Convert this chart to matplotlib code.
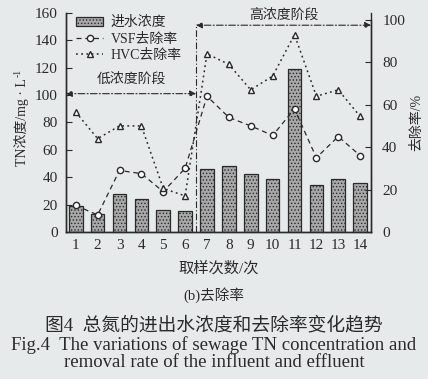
import matplotlib
matplotlib.use("Agg")
import matplotlib.pyplot as plt
import numpy as np

plt.rcParams['font.family'] = ['Liberation Serif', 'Noto Sans CJK SC']

samples = list(range(1, 15))
influent_tn = [19, 13, 28, 24, 16, 15.5, 46, 48, 42, 39, 119, 34.5, 39, 36]
vsf_removal = [12.5, 8, 29, 27.5, 19, 30, 64, 54, 50, 45.5, 58, 35, 45, 36]
hvc_removal = [56.5, 44, 50, 50, 20.5, 17, 84, 79, 67, 73.5, 93, 64, 67, 54.5]
left_ticks = [0, 20, 40, 60, 80, 100, 120, 140, 160]
right_ticks = [0, 20, 40, 60, 80, 100]

ink = '#2a2a2a'
bg = '#e7eaeb'
fig = plt.figure(figsize=(4.28, 3.79), dpi=100, facecolor=bg)
ax = fig.add_axes([0.154, 0.388, 0.713, 0.578])
ax.set_facecolor(bg)
ax2 = ax.twinx()

plt.rcParams['hatch.color'] = '#6e6e6e'
plt.rcParams['hatch.linewidth'] = 0.6
bars = ax.bar(samples, influent_tn, width=0.62, color='#a8a8a8', edgecolor=ink,
              linewidth=0.9, hatch='.....', label='进水浓度', zorder=2)

l1, = ax2.plot(samples, vsf_removal, linestyle=(0, (4, 3)), color=ink, lw=0.9,
               marker='o', markersize=4.5, markerfacecolor='white', markeredgecolor=ink,
               label='VSF去除率', zorder=4)
l2, = ax2.plot(samples, hvc_removal, linestyle=(0, (1.2, 2.2)), color=ink, lw=1.1,
               marker='^', markersize=4.5, markerfacecolor='white', markeredgecolor=ink,
               label='HVC去除率', zorder=4)

ax.set_xlim(0.55, 14.5)
ax.set_ylim(0, 160)
ax2.set_ylim(0, 103.3)
ax.set_yticks(left_ticks)
ax2.set_yticks(right_ticks)
ax.set_xticks(samples)
ax.set_xticklabels([str(s) for s in samples])

for a in (ax, ax2):
    a.spines['top'].set_visible(False)
    for s in a.spines.values():
        s.set_linewidth(1.0)
        s.set_color(ink)
ax.spines['left'].set_bounds(0, 160)
ax2.spines['right'].set_bounds(0, 100)
ax.tick_params(axis='y', direction='in', length=4, labelsize=11, colors=ink, pad=6)
ax.tick_params(axis='x', direction='in', length=3, labelsize=11, colors=ink, pad=5)
ax2.tick_params(axis='y', direction='in', length=4, labelsize=11, colors=ink, pad=8)

ax.set_xlabel('取样次数/次', fontsize=11, labelpad=7, color=ink)
ax.set_ylabel('TN浓度/mg · L', fontsize=10, labelpad=4, color=ink)
ax2.set_ylabel('去除率/%', fontsize=10, labelpad=4, color=ink, rotation=90)

# phase divider and arrows
ax.axvline(6.5, ymin=0, ymax=0.95, color=ink, lw=0.8, linestyle=(0, (6, 2, 1, 2)), zorder=3)
arrow_kw = dict(arrowstyle='<|-|>', color=ink, lw=0.8, linestyle=(0, (6, 2, 1, 2)),
                mutation_scale=9, shrinkA=0, shrinkB=0)
ax.annotate('', xy=(0.55, 101), xytext=(6.5, 101), arrowprops=arrow_kw, zorder=3)
ax.annotate('', xy=(6.5, 151), xytext=(14.5, 151), arrowprops=arrow_kw, zorder=3)
ax.text(3.55, 111, '低浓度阶段', ha='center', va='center', fontsize=10, color=ink)
ax.text(10.5, 157.5, '高浓度阶段', ha='center', va='center', fontsize=10, color=ink)

leg = ax.legend(handles=[bars, l1, l2], loc='upper left', bbox_to_anchor=(0.0, 1.03),
                frameon=False, fontsize=10, handlelength=2.0, handletextpad=0.5,
                labelspacing=0.25, borderaxespad=0.3)
for t in leg.get_texts():
    t.set_color(ink)

fig.text(0.5, 0.222, '(b)去除率', ha='center', va='center', fontsize=10.5, color=ink)
fig.text(0.5, 0.142, '图4  总氮的进出水浓度和去除率变化趋势', ha='center', va='center',
         fontsize=13.5, color=ink)
fig.text(0.5, 0.090, 'Fig.4  The variations of sewage TN concentration and', ha='center',
         va='center', fontsize=13.5, color=ink)
fig.text(0.5, 0.043, 'removal rate of the influent and effluent', ha='center',
         va='center', fontsize=13.5, color=ink)

# superscript -1 on the left y label
fig.canvas.draw()
bb = ax.yaxis.label.get_window_extent()
fig.text(bb.x0 - 1, bb.y1 + 1, '-1', transform=None, rotation=90, ha='left', va='bottom',
         fontsize=7, color=ink)

fig.savefig('out.png', dpi=100, facecolor=bg)
